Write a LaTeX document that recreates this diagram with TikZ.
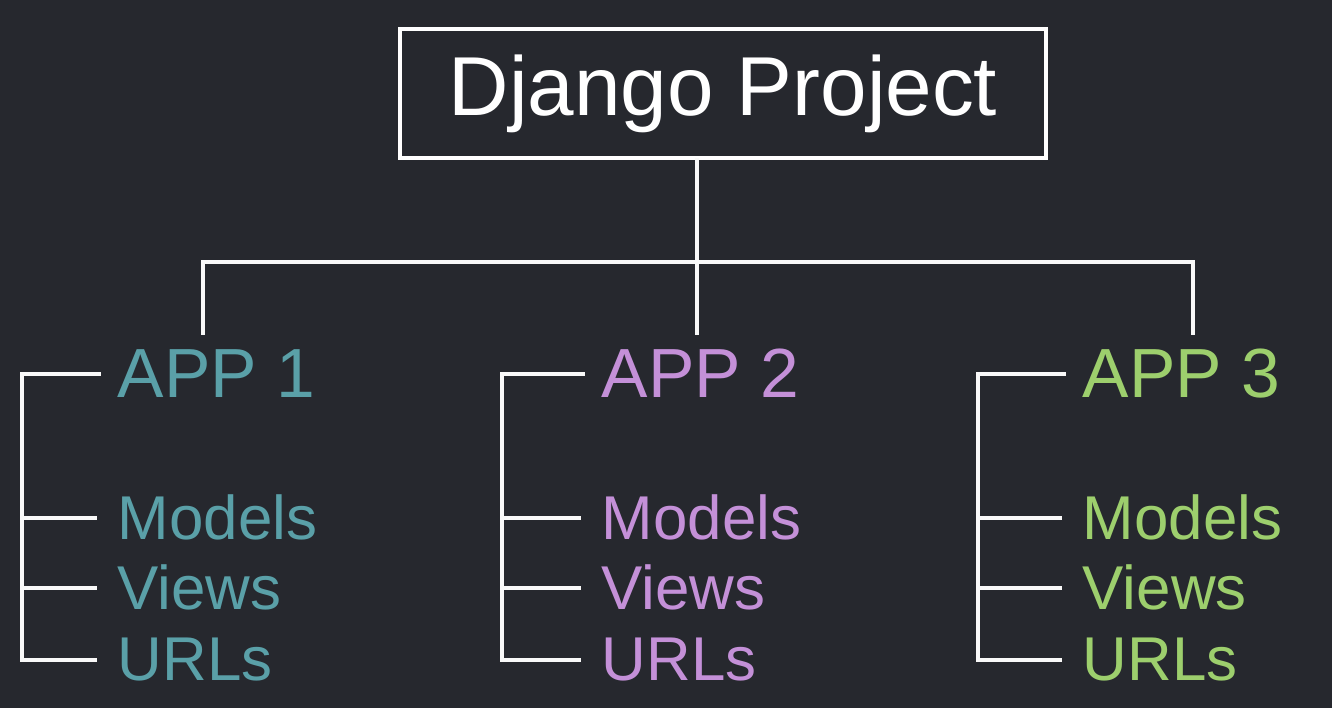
\documentclass[tikz,border=0pt]{standalone}
\usepackage{fontspec}
\setmainfont{Liberation Sans}
\definecolor{bgdark}{HTML}{26282E}
\definecolor{appone}{HTML}{5AA0A8}
\definecolor{apptwo}{HTML}{C490D8}
\definecolor{appthree}{HTML}{9DCF6D}
\tikzset{
  link/.style={draw=white!95!gray, line width=1.2pt, line cap=rect},
  projbox/.style={draw=white, line width=1.2pt, text=white, inner sep=0pt,
    minimum width=6.46cm, minimum height=1.29cm, font=\fontsize{23.8}{23.8}\selectfont},
  apptxt/.style={anchor=base west, inner sep=0pt, font=\fontsize{19.8}{19.8}\selectfont},
  parttxt/.style={anchor=base west, inner sep=0pt, font=\fontsize{17.6}{17.6}\selectfont}
}
\begin{document}
\begin{tikzpicture}
\fill[bgdark] (0,0) rectangle (13.32,7.08);
\useasboundingbox (0,0) rectangle (13.32,7.08);
% project box and tree
\node[projbox] (proj) at (7.23,6.145) {Django Project};
\coordinate (hub) at (6.97,4.46);
\coordinate (s1) at (2.03,3.75);
\coordinate (s2) at (6.97,3.75);
\coordinate (s3) at (11.93,3.75);
\draw[link] (proj.south -| hub)--(hub);
\draw[link] (s1) |- (hub) -| (s3);
\draw[link] (hub)--(s2);
% apps
\foreach \i/\bx/\tx/\col in {1/0.22/1.17/appone, 2/5.02/6.01/apptwo, 3/9.78/10.82/appthree}{
  \node[apptxt, text=\col] (app\i) at (\tx,3.10) {APP \i};
  \node[parttxt, text=\col] (mod\i) at (\tx,1.68) {Models};
  \node[parttxt, text=\col] (view\i) at (\tx,0.98) {Views};
  \node[parttxt, text=\col] (url\i) at (\tx,0.27) {URLs};
  \coordinate (br\i) at (\bx,0);
  \draw[link] ([xshift=-1.8mm]app\i.west)--(app\i.west -| br\i)--(url\i.west -| br\i)--([xshift=-2.2mm]url\i.west);
  \draw[link] (mod\i.west -| br\i)--([xshift=-2.2mm]mod\i.west);
  \draw[link] (view\i.west -| br\i)--([xshift=-2.2mm]view\i.west);
}
\end{tikzpicture}
\end{document}
